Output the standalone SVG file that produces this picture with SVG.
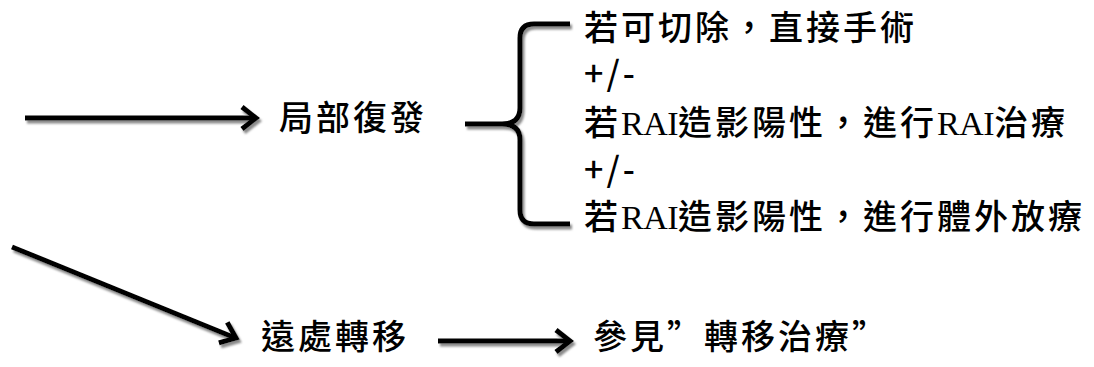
<svg xmlns="http://www.w3.org/2000/svg" width="1094" height="367" viewBox="0 0 1094 367">
  <defs>
    <filter id="shadow" x="-10%" y="-10%" width="130%" height="150%">
      <feGaussianBlur in="SourceAlpha" stdDeviation="1.2" result="b"/>
      <feOffset in="b" dx="2" dy="3" result="o"/>
      <feFlood flood-color="#8a8a8a" result="c"/>
      <feComposite in="c" in2="o" operator="in" result="s"/>
      <feMerge>
        <feMergeNode in="s"/>
        <feMergeNode in="SourceGraphic"/>
      </feMerge>
    </filter>
  </defs>
  <style>
    .t { font-family: "Noto Sans CJK TC", "Noto Sans CJK SC", sans-serif; font-size: 34px; font-weight: 500; fill: #000; letter-spacing: 3px; }
    .lat { font-family: "Liberation Serif", serif; letter-spacing: -0.5px; }
    .ln { fill: none; stroke: #000; stroke-width: 5; stroke-linejoin: miter; }
  </style>
  <rect width="1094" height="367" fill="#fff"/>

  <g id="connectors" filter="url(#shadow)">
    <g id="arrow-recurrence">
      <line class="ln" x1="25" y1="118" x2="253" y2="118"/>
      <polyline class="ln" points="242,107 256,118 242,129"/>
    </g>
    <g id="arrow-metastasis">
      <line class="ln" x1="12" y1="247" x2="233" y2="337"/>
      <polyline class="ln" points="227.3,322.4 236,338 218.9,342.8"/>
    </g>
    <g id="arrow-see">
      <line class="ln" x1="438" y1="341" x2="567" y2="341"/>
      <polyline class="ln" points="556,330 570,341 556,352"/>
    </g>
    <g id="brace">
      <path class="ln" d="M570,24 L534,24 Q520,24 520,38 L520,108 Q520,124 502,124 L465,124 M502,124 Q520,124 520,140 L520,210 Q520,224 534,224 L570,224"/>
    </g>
  </g>

  <g id="node-local-recurrence">
    <text class="t" x="279" y="130">局部復發</text>
  </g>

  <g id="node-options">
    <text class="t" x="584" y="40">若可切除，直接手術</text>
    <text class="t" x="584" y="86">+/-</text>
    <text class="t" x="584" y="135">若<tspan class="lat">RAI</tspan>造影陽性，進行<tspan class="lat">RAI</tspan>治療</text>
    <text class="t" x="584" y="182">+/-</text>
    <text class="t" x="584" y="229">若<tspan class="lat">RAI</tspan>造影陽性，進行體外放療</text>
  </g>

  <g id="node-distant-metastasis">
    <text class="t" x="261" y="349">遠處轉移</text>
  </g>

  <g id="node-see-metastasis-treatment">
    <text class="t" x="593" y="349">參見”轉移治療”</text>
  </g>
</svg>
